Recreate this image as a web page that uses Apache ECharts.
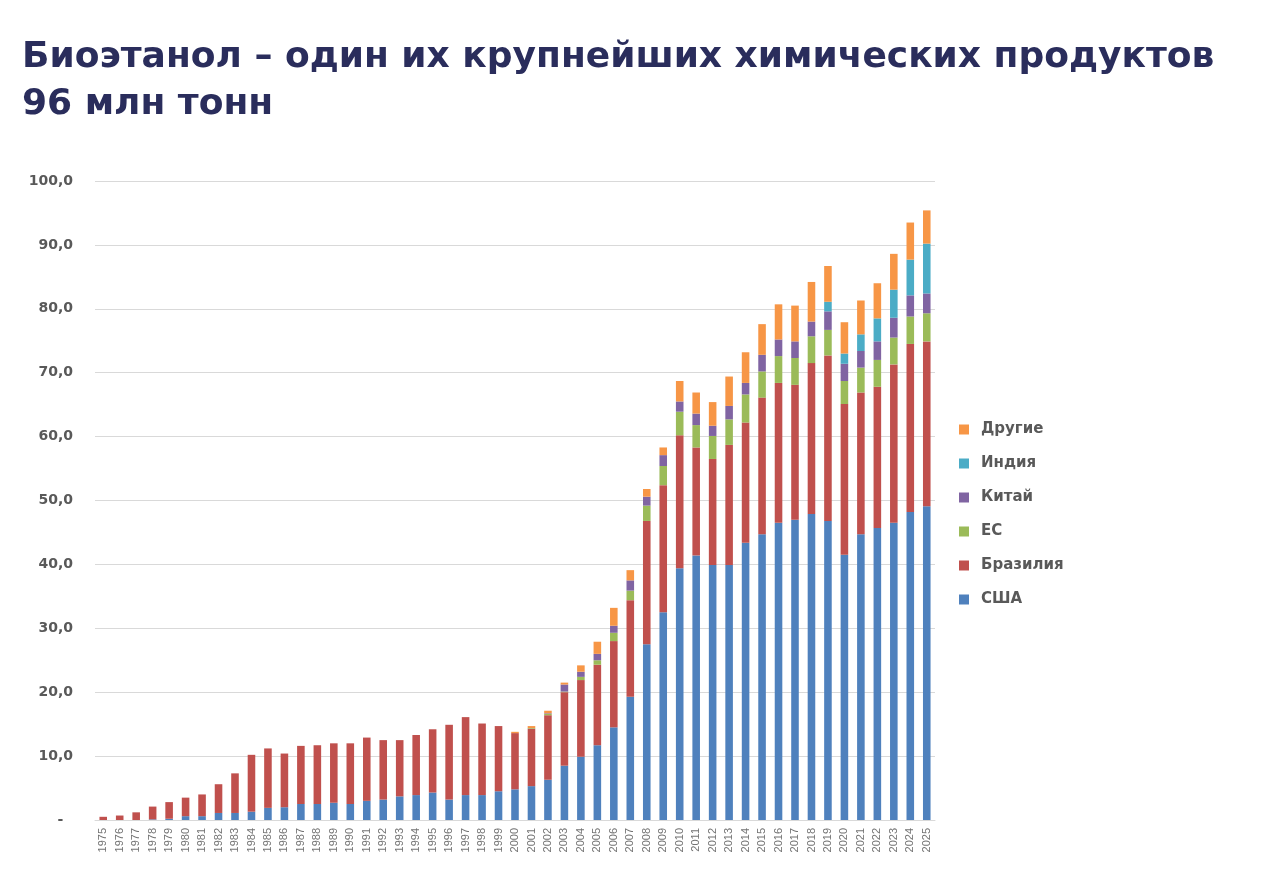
<!DOCTYPE html>
<html>
<head>
<meta charset="utf-8">
<script src="https://cdn.jsdelivr.net/npm/echarts@6/dist/echarts.min.js"></script>
<style>
  html, body { margin: 0; padding: 0; background: #fff; }
  #chart { width: 1279px; height: 889px; }
</style>
</head>
<body>
<div id="chart"></div>
<script>
// годы
var years = [];
for (var y = 1975; y <= 2025; y++) years.push(String(y));

// млн тонн
var usa = [0, 0, 0, 0.1, 0.2, 0.6, 0.6, 1.1, 1.1, 1.3, 1.9, 2.0, 2.5, 2.5, 2.7, 2.5, 3.0, 3.2, 3.7, 3.9,
  4.3, 3.2, 3.9, 3.9, 4.5, 4.8, 5.3, 6.3, 8.5, 9.9, 11.7, 14.5, 19.3, 27.5, 32.5, 39.4, 41.4, 39.9, 39.9, 43.4,
  44.7, 46.5, 47.0, 47.9, 46.8, 41.5, 44.7, 45.7, 46.5, 48.2, 49.1];
var brazil = [0.5, 0.7, 1.2, 2.0, 2.6, 2.9, 3.4, 4.5, 6.2, 8.9, 9.3, 8.4, 9.1, 9.2, 9.3, 9.5, 9.9, 9.3, 8.8, 9.4,
  9.9, 11.7, 12.2, 11.2, 10.2, 8.8, 9.0, 10.1, 11.5, 12.0, 12.6, 13.5, 15.1, 19.3, 19.9, 20.8, 16.9, 16.6, 18.8, 18.8,
  21.4, 21.9, 21.1, 23.6, 25.9, 23.6, 22.2, 22.1, 24.8, 26.3, 25.8];
var eu = [0, 0, 0, 0, 0, 0, 0, 0, 0, 0, 0, 0, 0, 0, 0, 0, 0, 0, 0, 0,
  0, 0, 0, 0, 0, 0, 0.1, 0.2, 0.1, 0.5, 0.7, 1.3, 1.5, 2.4, 3.0, 3.7, 3.5, 3.6, 4.0, 4.4,
  4.1, 4.2, 4.2, 4.2, 4.0, 3.6, 3.9, 4.2, 4.2, 4.3, 4.4];
var china = [0, 0, 0, 0, 0, 0, 0, 0, 0, 0, 0, 0, 0, 0, 0, 0, 0, 0, 0, 0,
  0, 0, 0, 0, 0, 0, 0, 0.1, 1.1, 0.8, 1.0, 1.1, 1.6, 1.4, 1.7, 1.6, 1.8, 1.6, 2.1, 1.8,
  2.6, 2.6, 2.6, 2.3, 2.9, 2.7, 2.6, 2.9, 3.1, 3.3, 3.1];
var india = [0, 0, 0, 0, 0, 0, 0, 0, 0, 0, 0, 0, 0, 0, 0, 0, 0, 0, 0, 0,
  0, 0, 0, 0, 0, 0, 0, 0, 0, 0, 0, 0, 0, 0, 0, 0, 0, 0, 0, 0,
  0, 0, 0, 0, 1.5, 1.6, 2.6, 3.6, 4.4, 5.6, 7.8];
var others = [0, 0, 0, 0, 0, 0, 0, 0, 0, 0, 0, 0, 0, 0, 0, 0, 0, 0, 0, 0,
  0, 0, 0, 0, 0, 0.2, 0.3, 0.4, 0.3, 1.0, 1.9, 2.8, 1.6, 1.2, 1.2, 3.2, 3.3, 3.7, 4.6, 4.8,
  4.8, 5.5, 5.6, 6.2, 5.6, 4.9, 5.3, 5.5, 5.6, 5.8, 5.2];

var seriesNames = ['США', 'Бразилия', 'ЕС', 'Китай', 'Индия', 'Другие'];
var seriesData = [usa, brazil, eu, china, india, others];
var seriesColors = ['#4f81bd', '#c0504d', '#9bbb59', '#8064a2', '#4bacc6', '#f79646'];

var chart = echarts.init(document.getElementById('chart'));

var series = seriesNames.map(function (name, i) {
  return {
    name: name,
    type: 'bar',
    stack: 'total',
    barWidth: '46%',
    itemStyle: { color: seriesColors[i] },
    data: seriesData[i]
  };
});

chart.setOption({
  animation: false,
  title: {
    text: 'Биоэтанол – один их крупнейших химических продуктов\n96 млн тонн',
    left: 17,
    top: 29,
    textStyle: {
      color: '#2a2d5c',
      fontFamily: 'DejaVu Sans',
      fontWeight: 'bold',
      fontSize: 36,
      lineHeight: 47
    }
  },
  legend: {
    orient: 'vertical',
    left: 954,
    top: 417,
    itemWidth: 10,
    itemHeight: 10,
    itemGap: 19,
    icon: 'rect',
    data: ['Другие', 'Индия', 'Китай', 'ЕС', 'Бразилия', 'США'],
    textStyle: {
      color: '#595959',
      fontFamily: 'DejaVu Sans',
      fontWeight: 'bold',
      fontSize: 15,
      padding: [0, 0, 0, 7]
    }
  },
  grid: {
    left: 95,
    top: 181,
    width: 840,
    height: 639
  },
  xAxis: {
    type: 'category',
    data: years,
    axisLine: { lineStyle: { color: '#d9d9d9' } },
    axisTick: { show: false },
    axisLabel: {
      rotate: 90,
      interval: 0,
      color: '#737373',
      fontFamily: 'Liberation Sans',
      fontSize: 11,
      margin: 8
    }
  },
  yAxis: {
    type: 'value',
    min: 0,
    max: 100,
    interval: 10,
    axisLine: { show: false },
    axisTick: { show: false },
    splitLine: { lineStyle: { color: '#d9d9d9' } },
    axisLabel: {
      color: '#595959',
      fontFamily: 'DejaVu Sans',
      fontWeight: 'bold',
      fontSize: 14,
      margin: 22,
      formatter: function (v) {
        if (v === 0) return '-  ';
        return v.toFixed(1).replace('.', ',');
      }
    }
  },
  series: series
});
</script>
</body>
</html>
